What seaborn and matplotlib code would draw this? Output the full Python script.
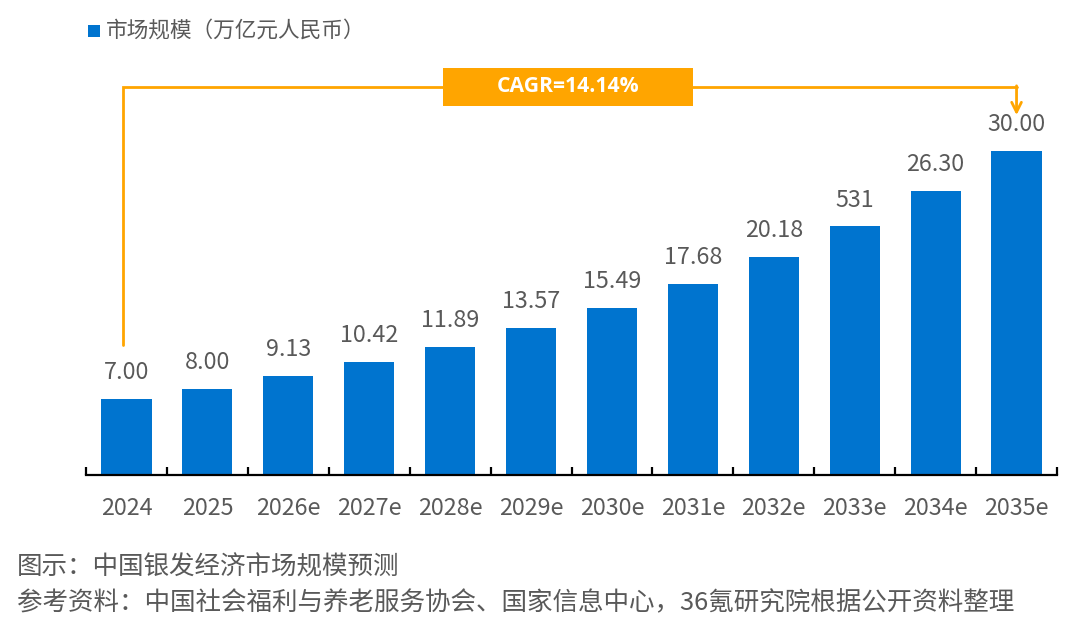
import matplotlib
matplotlib.use("Agg")
import matplotlib.pyplot as plt
import seaborn as sns
import pandas as pd
import numpy as np
from matplotlib.patches import Rectangle

categories = ["2024", "2025", "2026e", "2027e", "2028e", "2029e",
              "2030e", "2031e", "2032e", "2033e", "2034e", "2035e"]
values = [7.00, 8.00, 9.13, 10.42, 11.89, 13.57, 15.49, 17.68, 20.18, 23.00, 26.30, 30.00]
value_labels = ["7.00", "8.00", "9.13", "10.42", "11.89", "13.57",
                "15.49", "17.68", "20.18", "531", "26.30", "30.00"]
legend_label = "市场规模（万亿元人民币）"
cagr_label = "CAGR=14.14%"
caption = "图示：中国银发经济市场规模预测"
source = "参考资料：中国社会福利与养老服务协会、国家信息中心，36氪研究院根据公开资料整理"

BAR = "#0074CF"
ORANGE = "#FFA500"
GRAY = "#595959"

sns.set_style("white")
plt.rcParams['font.family'] = ['Noto Sans CJK SC', 'DejaVu Sans']

df = pd.DataFrame({"cat": categories, "val": values})

fig = plt.figure(figsize=(10.8, 6.21), dpi=100)
ax = fig.add_axes([86/1080, 1 - 475/621, (1057-86)/1080, (475-60)/621])

sns.barplot(data=df, x="cat", y="val", color=BAR, width=0.62, ax=ax,
            saturation=1, edgecolor=BAR, linewidth=0)

n = len(categories)
ax.set_xlim(-0.5, n - 0.5)
ax.set_ylim(0, 38.4)
ax.set_xlabel("")
ax.set_ylabel("")
ax.set_yticks([])
for s in ["top", "right", "left"]:
    ax.spines[s].set_visible(False)
ax.spines["bottom"].set_color("black")
ax.spines["bottom"].set_linewidth(1.6)

# ticks at boundaries (major, no labels), labels at centers (minor)
ax.set_xticks(np.arange(-0.5, n, 1.0))
ax.set_xticklabels([])
ax.set_xticks(np.arange(n), minor=True)
ax.set_xticklabels(categories, minor=True)
ax.tick_params(axis="x", which="major", direction="in", length=6, width=1.6,
               color="black", bottom=True)
ax.tick_params(axis="x", which="minor", length=0, pad=16, labelsize=16.8,
               labelcolor=GRAY)

for i, (v, lab) in enumerate(zip(values, value_labels)):
    ax.annotate(lab, (i, v), xytext=(0, 19), textcoords="offset points",
                ha="center", va="center", fontsize=16.8, color=GRAY)

# CAGR bracket
bracket_y = max(values) * 1.197
left_bottom = values[0] + 5.0
arrow_tip = values[-1] + 3.3
ax.plot([-0.04, -0.04, n - 1], [left_bottom, bracket_y, bracket_y], color=ORANGE,
        lw=2, clip_on=False, solid_joinstyle="miter")
ax.annotate("", xy=(n - 1, arrow_tip), xytext=(n - 1, bracket_y + 0.1),
            arrowprops=dict(arrowstyle="->,head_length=0.7,head_width=0.35",
                            color=ORANGE, lw=2, shrinkA=0, shrinkB=0),
            annotation_clip=False)
bx, bw, bh = 5.46, 3.09, 3.5
ax.add_patch(Rectangle((bx - bw / 2, bracket_y - bh / 2), bw, bh,
                       facecolor=ORANGE, edgecolor="none", clip_on=False, zorder=5))
ax.text(bx, bracket_y, cagr_label, ha="center", va="center", color="white",
        fontsize=15.2, fontweight="bold", zorder=6, family=['Open Sans', 'DejaVu Sans'])

# legend
fig.patches.append(Rectangle((88/1080, 1 - 37/621), 12/1080, 12/621,
                             transform=fig.transFigure, facecolor=BAR,
                             edgecolor="none"))
fig.text(106/1080, 1 - 31/621, legend_label, ha="left", va="center",
         fontsize=15.6, color=GRAY)

fig.text(17/1080, 1 - 567/621, caption, ha="left", va="center",
         fontsize=18.4, color=GRAY)
fig.text(17/1080, 1 - 603/621, source, ha="left", va="center",
         fontsize=18.4, color=GRAY)

fig.savefig("out.png", dpi=100)
